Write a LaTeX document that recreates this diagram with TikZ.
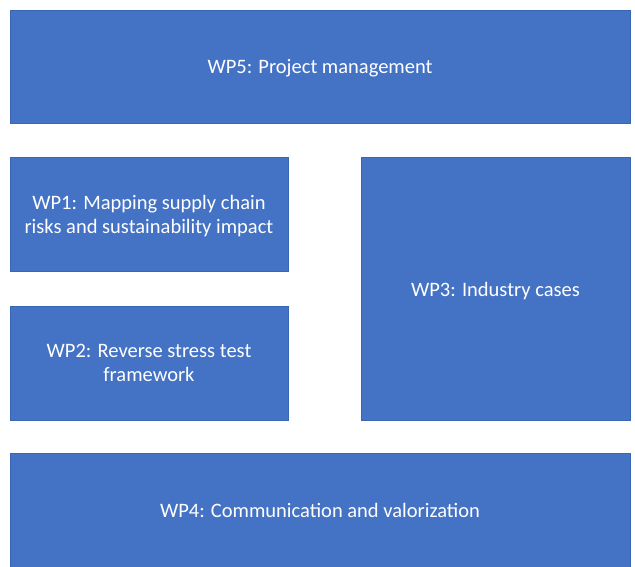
\documentclass[tikz,border=0pt]{standalone}
\usepackage{fontspec}
\setmainfont{Carlito}
\definecolor{wpblue}{HTML}{4472C4}
\definecolor{wpedge}{HTML}{3B66B5}
\tikzset{
  wpbox/.style={draw=wpedge, line width=0.8pt, fill=wpblue, text=white,
    align=center, inner sep=0pt, text depth=-4pt,
    font=\fontsize{20.5}{24}\selectfont},
}
\begin{document}
\begin{tikzpicture}[x=1pt,y=-1pt]
  \useasboundingbox[fill=white] (0,0) rectangle (635,566);
  % work packages
  \node[wpbox, minimum width=620pt, minimum height=113pt] (wp5) at (320,66.5) {WP5: Project management};
  \node[wpbox, minimum width=278pt, minimum height=114pt] (wp1) at (149,214.5) {WP1: Mapping supply chain\\risks and sustainability impact};
  \node[wpbox, minimum width=278pt, minimum height=114pt] (wp2) at (149,363) {WP2: Reverse stress test\\framework};
  \node[wpbox, minimum width=269pt, minimum height=263pt] (wp3) at (495.5,289) {WP3: Industry cases};
  \node[wpbox, minimum width=620pt, minimum height=114pt] (wp4) at (320,510) {WP4: Communication and valorization};
\end{tikzpicture}
\end{document}
